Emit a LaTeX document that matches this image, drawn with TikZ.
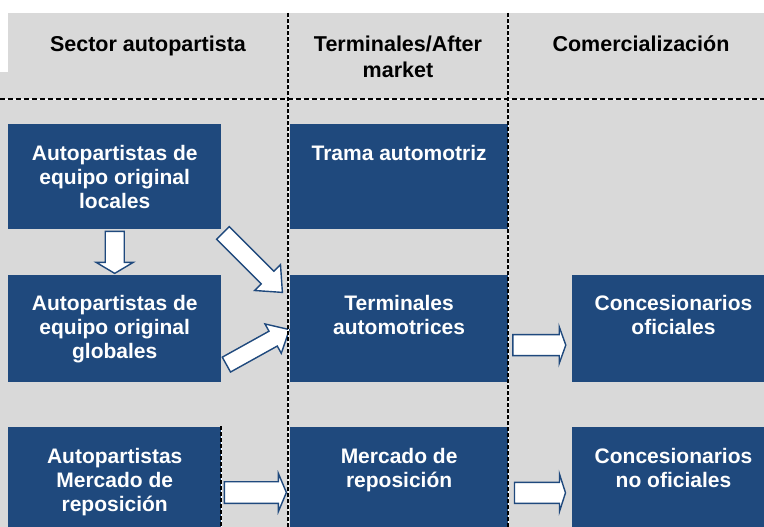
\documentclass[tikz,border=0pt]{standalone}
\usepackage{fontspec}
\setmainfont{Liberation Sans}
\usetikzlibrary{positioning, calc}

\definecolor{boxblue}{HTML}{1F497D}
\definecolor{bggray}{HTML}{D9D9D9}

\begin{document}
\begin{tikzpicture}[x=1pt, y=-1pt, node distance=45pt,
  box/.style={rectangle, fill=boxblue, inner sep=0pt, minimum width=213pt},
  boxtext/.style={text=white, align=center, inner sep=0pt, font=\fontsize{21}{24}\selectfont\bfseries},
  head/.style={anchor=north, align=center, inner sep=0pt, font=\fontsize{21.5}{26}\selectfont\bfseries},
  hdiv/.style={line width=1.3pt, dash pattern=on 4.5pt off 3.5pt, preaction={draw=white, solid}},
  vdiv/.style={line width=1.3pt, dash pattern=on 4pt off 2pt, preaction={draw=white, solid}},
  blockarrow/.style args={#1/#2/#3}{draw=boxblue, fill=white, line width=1.4pt, line join=miter,
    to path={let \p1=(\tikztostart), \p2=(\tikztotarget), \p3=($(\p2)!#3!(\p1)$) in
      ($(\p1)!#1!90:(\p2)$) -- ($(\p3)!#1!90:(\p2)$) -- ($(\p3)!#2!90:(\p2)$) -- (\p2)
      -- ($(\p3)!#2!-90:(\p2)$) -- ($(\p3)!#1!-90:(\p2)$) -- ($(\p1)!#1!-90:(\p2)$) -- cycle}}]
\useasboundingbox (0,0) rectangle (764,527);
\fill[bggray] (8,13) rectangle (764,527);
\fill[bggray] (0,72) rectangle (8,527);

% column titles
\node[head] (hsec) at (148,35.5) {Sector autopartista};
\node[head] (hterm) at (398,35.5) {Terminales/After\\market};
\node[head] (hcom) at (641,35.5) {Comercialización};

% boxes
\node[box, minimum height=105pt, anchor=north west] (loc) at (8,124) {};
\node[box, minimum height=107pt, below=of loc] (glob) {};
\node[box, minimum height=101pt, below=of glob] (repo) {};
\node[box, minimum width=219pt, minimum height=105pt, right=68pt of loc] (trama) {};
\node[box, minimum width=219pt, minimum height=107pt, right=68pt of glob] (term) {};
\node[box, minimum width=219pt, minimum height=101pt, right=68pt of repo] (merc) {};
\node[box, minimum width=193pt, minimum height=107pt, right=63pt of term] (ofic) {};
\node[box, minimum width=193pt, minimum height=101pt, right=63pt of merc] (nofic) {};

\node[boxtext, below=21pt of loc.north] (loctxt) {Autopartistas de\\equipo original\\locales};
\node[boxtext, below=21pt of glob.north] (globtxt) {Autopartistas de\\equipo original\\globales};
\node[boxtext, below=21pt of repo.north] (repotxt) {Autopartistas\\Mercado de\\reposición};
\node[boxtext, below=21pt of trama.north] (tramatxt) {Trama automotriz};
\node[boxtext, below=21pt of term.north] (termtxt) {Terminales\\automotrices};
\node[boxtext, below=21pt of merc.north] (merctxt) {Mercado de\\reposición};
\node[boxtext, below=21pt of ofic.north, xshift=5pt] (ofictxt) {Concesionarios\\oficiales};
\node[boxtext, below=21pt of nofic.north, xshift=5pt] (nofictxt) {Concesionarios\\no oficiales};

% arrows
\draw[blockarrow=9.5pt/18.5pt/11pt] ([yshift=-2pt]loc.south) to ([yshift=1pt]glob.north);
\draw[blockarrow=9pt/18.3pt/21pt] ([shift={(1.5pt,-3.5pt)}]loc.south east) to ([shift={(-7pt,-18pt)}]term.north west);
\draw[blockarrow=8.5pt/16.8pt/18.6pt] ([shift={(5pt,-36.5pt)}]glob.east) to ([yshift=-1.5pt]term.west);
\draw[blockarrow=10.8pt/19pt/8pt] ([shift={(3pt,-15pt)}]repo.east) to ([shift={(-3pt,-15pt)}]merc.west);
\draw[blockarrow=10.5pt/18.4pt/6.6pt] ([shift={(4pt,-17pt)}]term.east) to ([shift={(-6pt,-17pt)}]ofic.west);
\draw[blockarrow=10.5pt/18.7pt/6pt] ([shift={(5.7pt,-15.3pt)}]merc.east) to ([shift={(-6.3pt,-15.3pt)}]nofic.west);

% dividers
\draw[hdiv] (0,99) -- (764,99);
\draw[vdiv] (288,13) -- (288,527);
\draw[vdiv] (508,13) -- (508,527);
\draw[vdiv] (221,426) -- (221,527);
\end{tikzpicture}
\end{document}
